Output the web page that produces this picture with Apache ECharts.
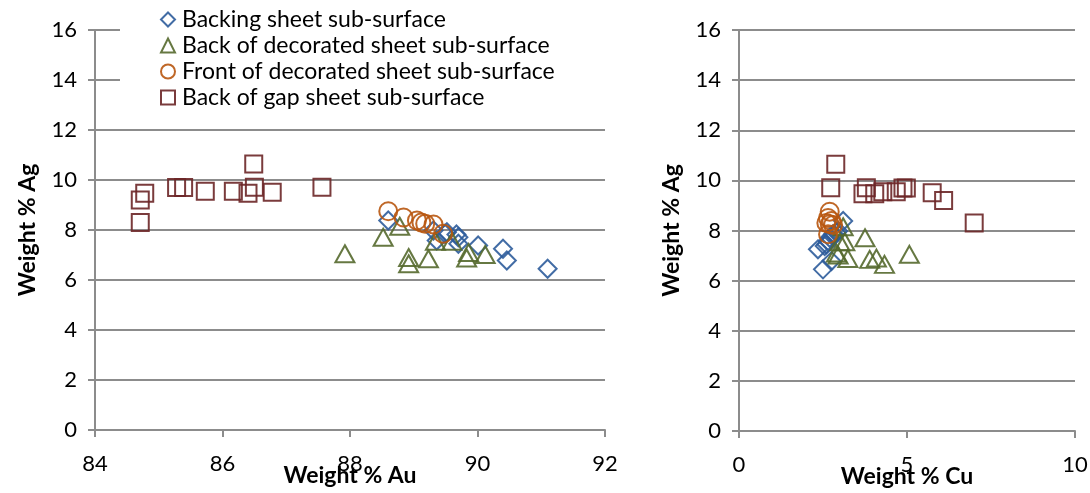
<!DOCTYPE html>
<html>
<head>
<meta charset="utf-8">
<script src="https://cdn.jsdelivr.net/npm/echarts@6/dist/echarts.min.js"></script>
<style>
html, body { margin: 0; padding: 0; background: #fff; }
#chart { width: 1090px; height: 493px; }
</style>
</head>
<body>
<div id="chart"></div>
<script>
// series names
let seriesNames = [
    'Backing sheet sub-surface',
    'Back of decorated sheet sub-surface',
    'Front of decorated sheet sub-surface',
    'Back of gap sheet sub-surface'
]

// Backing sheet sub-surface
let backingAu = [88.60, 89.31, 89.52, 89.67, 89.70, 89.36, 90.01, 90.40, 90.46, 91.10, 89.49, 89.70]
let backingAg = [8.38, 7.98, 7.91, 7.82, 7.71, 7.58, 7.38, 7.25, 6.78, 6.45, 7.85, 7.45]
let backingCu = [3.10, 2.95, 2.90, 2.85, 2.70, 2.65, 2.55, 2.35, 2.75, 2.50, 2.80, 2.60]

// Back of decorated sheet sub-surface
let decoBackAu = [87.92, 88.52, 88.78, 88.92, 88.92, 89.23, 89.34, 89.60, 89.86, 89.83, 90.12]
let decoBackAg = [7.05, 7.71, 8.15, 6.90, 6.65, 6.85, 7.55, 7.55, 7.10, 6.88, 7.02]
let decoBackCu = [5.07, 3.75, 3.10, 4.09, 4.33, 3.89, 3.15, 3.00, 2.90, 3.24, 2.95]

// Front of decorated sheet sub-surface
let decoFrontAu = [88.60, 88.84, 89.05, 89.12, 89.18, 89.31, 89.46]
let decoFrontAg = [8.75, 8.50, 8.38, 8.30, 8.25, 8.22, 7.85]
let decoFrontCu = [2.70, 2.65, 2.75, 2.60, 2.70, 2.80, 2.65]

// Back of gap sheet sub-surface
let gapAu = [84.71, 84.71, 84.78, 85.28, 85.39, 85.73, 86.17, 86.40, 86.49, 86.50, 86.78, 87.56]
let gapAg = [8.30, 9.20, 9.47, 9.70, 9.70, 9.55, 9.55, 9.47, 10.64, 9.71, 9.51, 9.71]
let gapCu = [7.00, 6.09, 3.69, 4.88, 4.98, 4.28, 4.68, 4.04, 2.88, 2.73, 5.75, 3.79]

// axis ticks
let auTicks = [84, 86, 88, 90, 92]
let cuTicks = [0, 5, 10]
let agTicks = [0, 2, 4, 6, 8, 10, 12, 14, 16]

let colors = ['#2d5c9b', '#55692d', '#b8560f', '#6b2627']
let symbols = ['diamond', 'triangle', 'circle', 'rect']
let symbolSizes = [[18, 18], [19, 17], [18, 18], [17, 17]]

let font = 'Lato, "Open Sans", sans-serif'
let gridColor = '#8c8c8c'

let pairs = (xs, ys) => xs.map((x, i) => [x, ys[i]])

let groups = [
    { au: backingAu, ag: backingAg, cu: backingCu },
    { au: decoBackAu, ag: decoBackAg, cu: decoBackCu },
    { au: decoFrontAu, ag: decoFrontAg, cu: decoFrontCu },
    { au: gapAu, ag: gapAg, cu: gapCu }
]

let makeSeries = (idx, data, gridIdx) => ({
    name: seriesNames[idx],
    type: 'scatter',
    xAxisIndex: gridIdx,
    yAxisIndex: gridIdx,
    symbol: symbols[idx],
    symbolSize: symbolSizes[idx],
    itemStyle: {
        color: 'rgba(255,255,255,0)',
        borderColor: colors[idx],
        borderWidth: 2,
        opacity: 0.9
    },
    emphasis: { disabled: true },
    data: data
})

let series = []
groups.forEach((g, i) => series.push(makeSeries(i, pairs(g.au, g.ag), 0)))
groups.forEach((g, i) => series.push(makeSeries(i, pairs(g.cu, g.ag), 1)))

let makeXAxis = (gridIdx, ticks, name) => ({
    type: 'value',
    gridIndex: gridIdx,
    min: ticks[0],
    max: ticks[ticks.length - 1],
    interval: ticks[1] - ticks[0],
    name: name,
    nameLocation: 'middle',
    nameGap: 34,
    nameMoveOverlap: false,
    nameTextStyle: { fontFamily: font, fontSize: 23, fontWeight: 'bold', color: '#000' },
    axisLine: { show: true, lineStyle: { color: gridColor, width: 2 } },
    axisTick: { show: true, length: 7, lineStyle: { color: gridColor, width: 2 } },
    axisLabel: { fontFamily: font, fontSize: 22, color: '#000', margin: 23 },
    splitLine: { show: false }
})

let makeYAxis = (gridIdx) => ({
    type: 'value',
    gridIndex: gridIdx,
    min: agTicks[0],
    max: agTicks[agTicks.length - 1],
    interval: agTicks[1] - agTicks[0],
    name: 'Weight % Ag',
    nameLocation: 'middle',
    nameGap: 56,
    nameMoveOverlap: false,
    nameTextStyle: { fontFamily: font, fontSize: 23, fontWeight: 'bold', color: '#000' },
    axisLine: { show: true, lineStyle: { color: gridColor, width: 2 } },
    axisTick: { show: true, length: 7, lineStyle: { color: gridColor, width: 2 } },
    axisLabel: { fontFamily: font, fontSize: 22, color: '#000', margin: 18 },
    splitLine: { show: true, lineStyle: { color: gridColor, width: 2 } }
})

let option = {
    animation: false,
    backgroundColor: '#fff',
    grid: [
        { left: 95, right: 485, top: 30, bottom: 63, outerBoundsMode: 'none' },
        { left: 739, right: 15, top: 30, bottom: 62, outerBoundsMode: 'none' }
    ],
    // white box behind the legend, hides the top gridlines like the original
    graphic: [{
        type: 'rect',
        left: 120,
        top: 4,
        z: 3,
        shape: { width: 486, height: 110 },
        style: { fill: '#fff' },
        silent: true
    }],
    legend: {
        data: seriesNames,
        orient: 'vertical',
        left: 160,
        top: 8,
        padding: 0,
        itemWidth: 14,
        itemHeight: 14,
        itemGap: 3,
        selectedMode: false,
        textStyle: { fontFamily: font, fontSize: 23, color: '#000', lineHeight: 23, padding: [0, 0, 0, 2] }
    },
    xAxis: [
        makeXAxis(0, auTicks, 'Weight % Au'),
        makeXAxis(1, cuTicks, 'Weight % Cu')
    ],
    yAxis: [makeYAxis(0), makeYAxis(1)],
    series: series
}

let chart = echarts.init(document.getElementById('chart'))
chart.setOption(option)
</script>
</body>
</html>
